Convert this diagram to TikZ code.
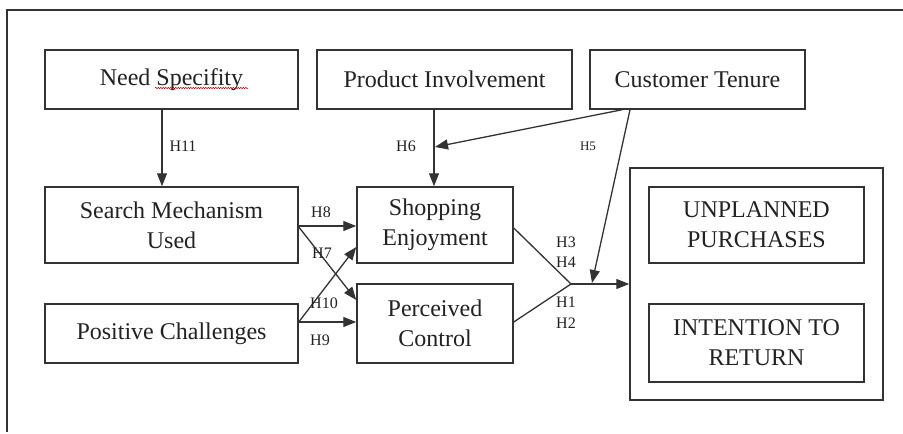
\documentclass[tikz,border=0pt]{standalone}
\usepackage{fontspec}
\setmainfont{Liberation Serif}
\usetikzlibrary{arrows.meta,calc,decorations.pathmorphing}
\definecolor{ln}{HTML}{333333}
\definecolor{tx}{HTML}{222222}
\begin{document}
\begin{tikzpicture}[x=1pt,y=-1pt,
  box/.style={draw=ln,line width=1.5pt,rectangle,align=center,text=tx,
    font=\fontsize{24}{30}\selectfont,inner sep=0pt},
  arr/.style={draw=ln,line width=1.3pt,-{Triangle[length=13pt,width=10pt]}},
  plain/.style={draw=ln,line width=1.3pt},
  hl/.style={text=tx,font=\fontsize{16}{20}\selectfont,inner sep=0pt},
  hs/.style={text=tx,font=\fontsize{13}{16}\selectfont,inner sep=0pt}]
\useasboundingbox (0,0) rectangle (903,434);
\fill[white] (0,0) rectangle (903,434);
% frame
\draw[ln,line width=1.4pt] (7,432) -- (7,10) -- (903,10);
% nodes
\node[box,minimum width=253pt,minimum height=59pt] (need) at (171.5,79.5) {Need Specifity};
\node[box,minimum width=255pt,minimum height=59pt] (prod) at (444.5,79.5) {Product Involvement};
\node[box,minimum width=215pt,minimum height=59pt] (ten) at (697.5,79.5) {Customer Tenure};
\node[box,minimum width=253pt,minimum height=76pt] (search) at (171.5,225) {Search Mechanism\\Used};
\node[box,minimum width=156pt,minimum height=76pt] (enjoy) at (435,225) {Shopping\\Enjoyment};
\node[box,minimum width=253pt,minimum height=59pt] (pos) at (171.5,333.5) {Positive Challenges};
\node[box,minimum width=156pt,minimum height=79pt] (ctrl) at (435,323.5) {Perceived\\Control};
\node[draw=ln,line width=1.5pt,minimum width=253pt,minimum height=232pt,inner sep=0pt] (out) at (756.5,284) {};
\node[box,minimum width=215pt,minimum height=76pt] (unpl) at (756.5,225) {UNPLANNED\\PURCHASES};
\node[box,minimum width=215pt,minimum height=78pt] (intent) at (756.5,343) {INTENTION TO\\RETURN};
% spell-check squiggle
\draw[red!80!black,line width=0.5pt,decorate,decoration={snake,amplitude=0.7pt,segment length=2.5pt}] (155,88) -- (248,88);
% coordinates
\coordinate (h6j) at (435,147);
\coordinate (h5e) at (592,283);
\coordinate (j) at (571,284);
% connectors
\draw[arr] ([xshift=-9.5pt]need.south) -- ([xshift=-9.5pt]search.north);
\draw[arr] ([xshift=-10.5pt]prod.south) -- ([xshift=-1pt]enjoy.north);
\draw[arr] ([xshift=-75.5pt]ten.south) -- (h6j);
\draw[arr] ([xshift=-67.5pt]ten.south) -- (h5e);
\draw[plain] ([yshift=-3pt]enjoy.east) -- (j);
\draw[plain] ([yshift=1.5pt]ctrl.east) -- (j);
\draw[arr] (j) -- (out.west);
\draw[arr] ([yshift=-1pt]search.east) -- ([yshift=-1pt]enjoy.west);
\draw[arr] ([yshift=-2pt]search.east) -- ([yshift=23.5pt]ctrl.west);
\draw[arr] ([yshift=11.5pt]pos.east) -- ([yshift=-22pt]enjoy.west);
\draw[arr] ([yshift=11.5pt]pos.east) -- ([yshift=1.5pt]ctrl.west);
% labels
\node[hl] (l11) at (183,146) {H11};
\node[hl] (l6) at (406,146) {H6};
\node[hs] (l5) at (588,146) {H5};
\node[hl] (l8) at (321,212) {H8};
\node[hl] (l7) at (322,253) {H7};
\node[hl] (l10) at (324,303) {H10};
\node[hl] (l9) at (320,340) {H9};
\node[hl] (l3) at (566,242) {H3};
\node[hl] (l4) at (566,262) {H4};
\node[hl] (l1) at (566,302) {H1};
\node[hl] (l2) at (566,323) {H2};
\end{tikzpicture}
\end{document}
